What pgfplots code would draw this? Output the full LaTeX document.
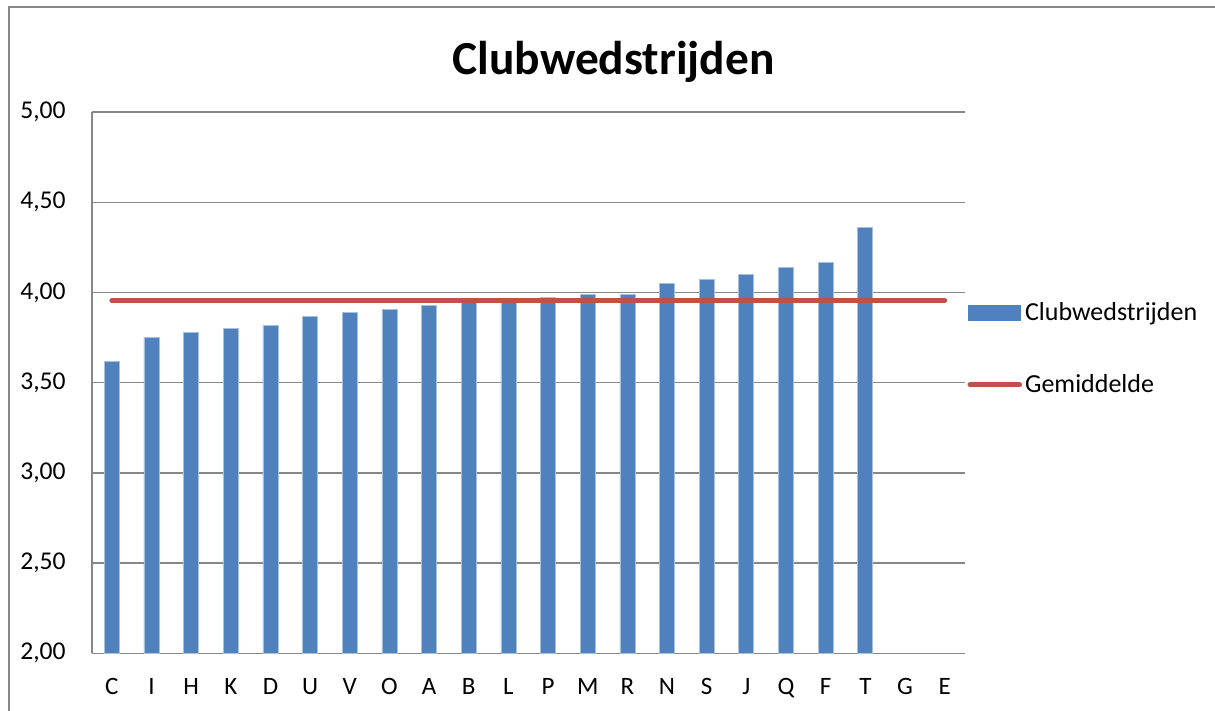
\documentclass[border=0pt]{standalone}
\usepackage{pgfplots}
\pgfplotsset{compat=1.18}
\usepackage{fontspec}
\setmainfont{Carlito}
\definecolor{barblue}{HTML}{4F81BD}
\definecolor{baredge}{HTML}{A7C0DE}
\definecolor{avgred}{HTML}{C0504D}
\definecolor{gridgray}{HTML}{878787}
\begin{document}
\begin{tikzpicture}
\path[use as bounding box] (0pt,0pt) rectangle (607.5pt,355.5pt);
\draw[gridgray, line width=0.65pt] (4.5pt,-10pt) -- (4.5pt,352pt) -- (640pt,352pt);
\node[anchor=base, font=\fontsize{23.7}{28}\selectfont\bfseries] at (306.8pt,318pt) {Clubwedstrijden};
\begin{axis}[
  at={(46pt,28.85pt)}, anchor=south west,
  scale only axis,
  width=436.25pt, height=270.6pt,
  xmin=-0.5, xmax=21.5,
  ymin=2, ymax=5,
  xtick={0,...,21},
  xticklabels={C,I,H,K,D,U,V,O,A,B,L,P,M,R,N,S,J,Q,F,T,G,E},
  ytick={2,2.5,3,3.5,4,4.5,5},
  /pgf/number format/assume math mode=true,
  yticklabel={\pgfmathprintnumber[fixed,fixed zerofill,precision=2,use comma]{\tick}},
  major tick length=0pt,
  axis x line*=bottom, axis y line*=left,
  axis line style={draw=gridgray, line width=0.75pt},
  ymajorgrids, grid style={draw=gridgray, line width=0.75pt},
  yticklabel style={anchor=east, inner sep=0pt, xshift=-13pt, font=\fontsize{12.8}{15}\selectfont},
  xticklabel style={anchor=base, inner sep=0pt, yshift=-20.85pt, font=\fontsize{12.5}{15}\selectfont},
  legend cell align=left,
  legend style={draw=none, fill=none, at={(1.003,0.655)}, anchor=north west,
    font=\fontsize{13}{15}\selectfont, row sep=22.5pt, inner sep=0pt,
    nodes={inner sep=1.5pt}},
]
\addplot[ybar, bar width=7.5pt, bar shift=0pt, fill=barblue, draw=baredge, line width=0.4pt,
  legend image code/.code={\fill[barblue] (0pt,-3.75pt) rectangle (26pt,3.75pt);}]
  coordinates {
  (0,3.62) (1,3.75) (2,3.78) (3,3.80) (4,3.815) (5,3.865) (6,3.89) (7,3.905)
  (8,3.93) (9,3.945) (10,3.955) (11,3.975) (12,3.99) (13,3.99) (14,4.05)
  (15,4.07) (16,4.10) (17,4.14) (18,4.165) (19,4.36)
  };
\addlegendentry{Clubwedstrijden}
\addplot[avgred, line width=2.5pt, line cap=round, mark=none,
  legend image code/.code={\draw[avgred, line width=2.5pt, line cap=round] (0.6pt,0pt) -- (25.4pt,0pt);}]
  coordinates {(0,3.955) (21,3.955)};
\addlegendentry{Gemiddelde}
\end{axis}
\end{tikzpicture}
\end{document}
